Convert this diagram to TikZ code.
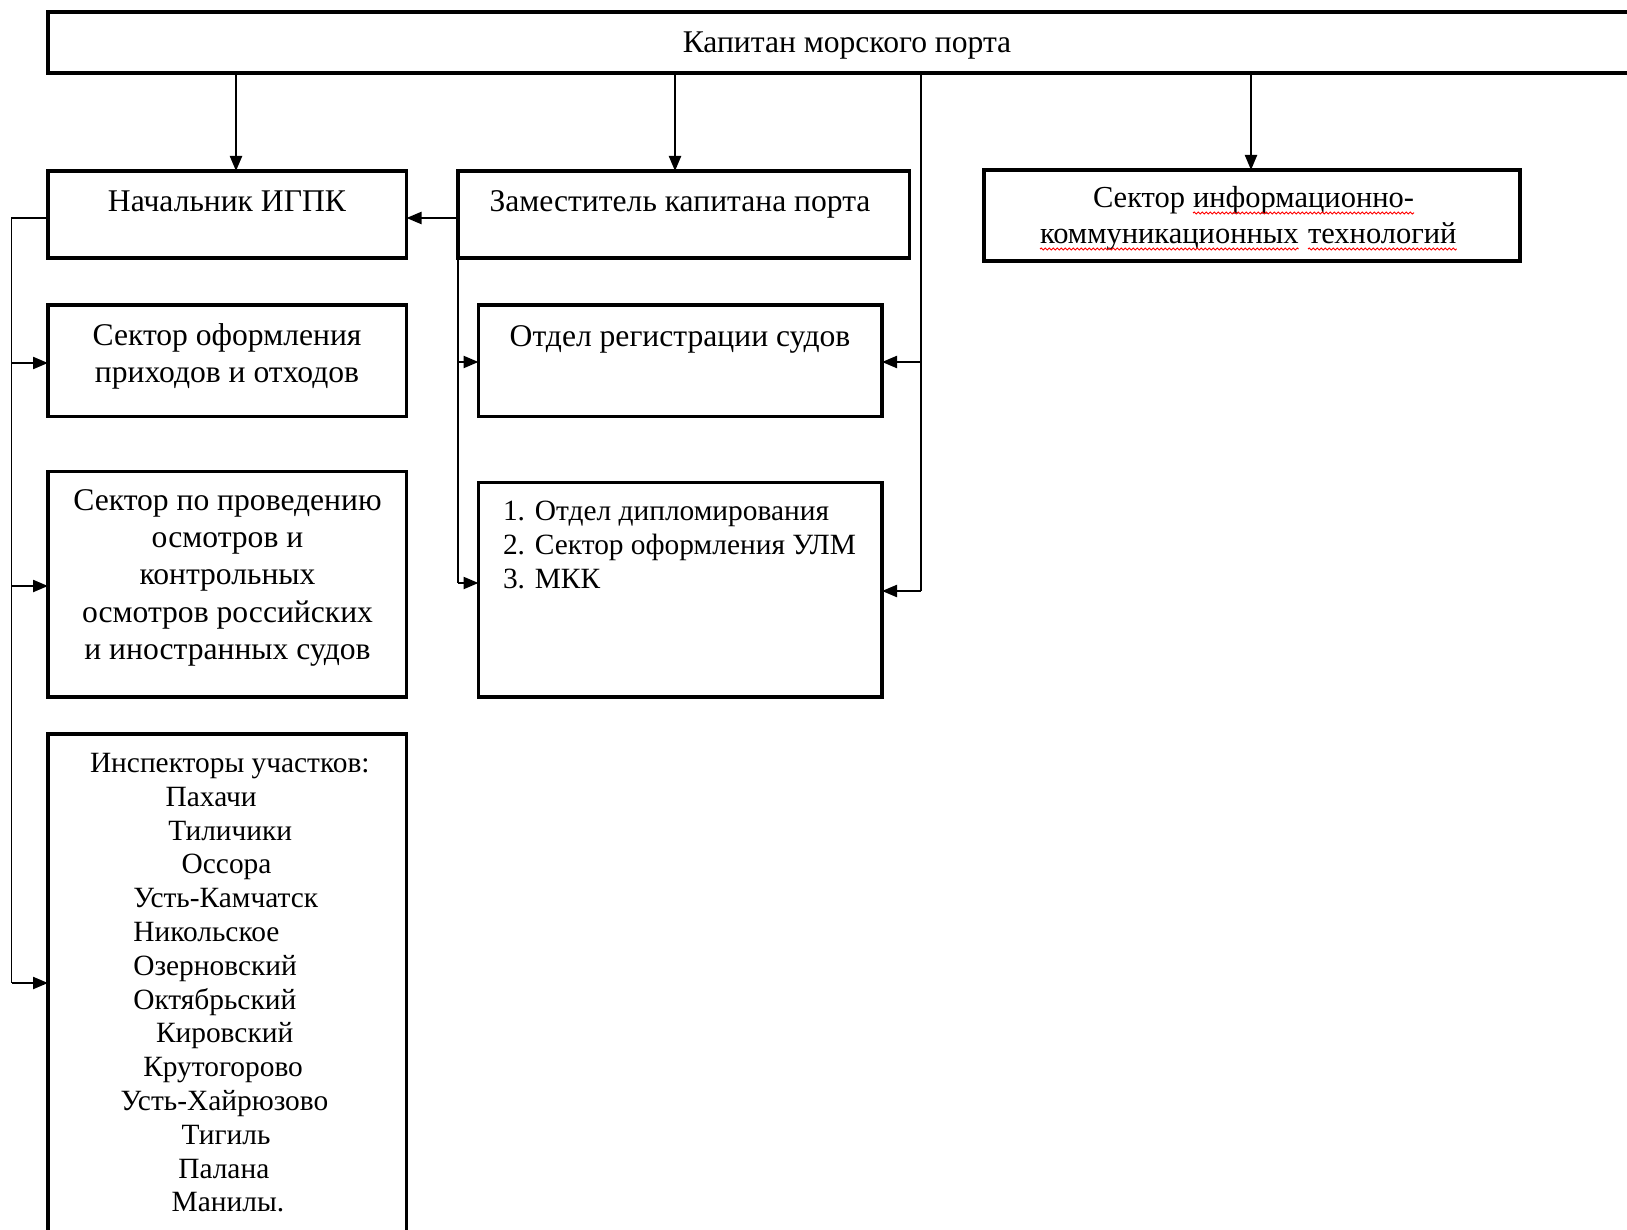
\documentclass[tikz,border=0pt]{standalone}
\usepackage{fontspec}
\setmainfont{Liberation Serif}
\usetikzlibrary{arrows.meta,decorations.pathmorphing}
\begin{document}
\begin{tikzpicture}[x=1pt,y=-1pt,
 box/.style={draw, line width=3.2pt, inner sep=0pt, outer sep=0pt},
 arr/.style={line width=2.2pt, -{Triangle[length=15pt,width=12pt]}},
 bus/.style={line width=1.6pt},
 lbl/.style={inner sep=0pt, outer sep=0pt, anchor=base, font=\fontsize{31.6}{36}\selectfont},
 lbls/.style={inner sep=0pt, outer sep=0pt, anchor=base west, font=\fontsize{29.4}{33.4}\selectfont},
 lblk/.style={inner sep=0pt, outer sep=0pt, anchor=base west, font=\fontsize{30.5}{36}\selectfont},
 wavy/.style={red, line width=1pt, decorate, decoration={snake, amplitude=1pt, segment length=4pt}}]
\useasboundingbox (0,0) rectangle (1627,1230);
\fill[white] (0,0) rectangle (1627,1230);
\clip (0,0) rectangle (1627,1230);

% boxes
\node[box, minimum width=1612pt, minimum height=61pt] (kap) at (854,42.5) {};
\node[box, minimum width=358.5pt, minimum height=87pt] (nach) at (227.25,214.5) {};
\node[box, minimum width=451.5pt, minimum height=87pt] (zam) at (683.75,214.5) {};
\node[box, minimum width=536pt, minimum height=91pt] (ikt) at (1252,215.5) {};
\node[box, minimum width=358.5pt, minimum height=111.5pt] (sof) at (227.25,360.75) {};
\node[box, minimum width=358.5pt, minimum height=225.5pt] (spr) at (227.25,584.25) {};
\node[box, minimum width=358.5pt, minimum height=516pt] (insp) at (227.25,992) {};
\node[box, minimum width=403.5pt, minimum height=111.5pt] (otd) at (680.25,360.75) {};
\node[box, minimum width=403.5pt, minimum height=214.5pt] (lst) at (680.25,589.75) {};

% texts
\node[lbl] (tkap) at (847,52.5) {Капитан морского порта};
\node[lbl] (tnach) at (227,211.5) {Начальник ИГПК};
\node[lbl] (tzam) at (680,212) {Заместитель капитана порта};
\node[lblk] (tikta) at (1093,208) {Сектор};
\node[lblk] (tiktb) at (1193,208) {информационно-};
\node[lblk] (tiktc) at (1040,244) {коммуникационных};
\node[lblk] (tiktd) at (1308,244) {технологий};
\node[lbl] (tsof1) at (227,346) {Сектор оформления};
\node[lbl] (tsof2) at (227,382) {приходов и отходов};
\node[lbl] (tspr1) at (227.5,510) {Сектор по проведению};
\node[lbl] (tspr2) at (227.5,547.4) {осмотров и};
\node[lbl] (tspr3) at (227.5,584.8) {контрольных};
\node[lbl] (tspr4) at (227.5,622.2) {осмотров российских};
\node[lbl] (tspr5) at (227.5,659.6) {и иностранных судов};
\node[lbl] (totd) at (680,347) {Отдел регистрации судов};
\node[lbls] (tl1) at (503,520) {1. Отдел дипломирования};
\node[lbls] (tl2) at (503,554) {2. Сектор оформления УЛМ};
\node[lbls] (tl3) at (503,588) {3. МКК};
\node[lbls] (ti0) at (90,772.5) {Инспекторы участков:};
\node[lbls] (ti1) at (165.7,806.3) {Пахачи};
\node[lbls] (ti2) at (168.3,840.1) {Тиличики};
\node[lbls] (ti3) at (181.7,873.9) {Оссора};
\node[lbls] (ti4) at (133.3,907.7) {Усть-Камчатск};
\node[lbls] (ti5) at (133.3,941.5) {Никольское};
\node[lbls] (ti6) at (133.3,975.3) {Озерновский};
\node[lbls] (ti7) at (133.3,1009.1) {Октябрьский};
\node[lbls] (ti8) at (156,1042.9) {Кировский};
\node[lbls] (ti9) at (143.3,1076.7) {Крутогорово};
\node[lbls] (ti10) at (120.7,1110.5) {Усть-Хайрюзово};
\node[lbls] (ti11) at (181.7,1144.3) {Тигиль};
\node[lbls] (ti12) at (178.3,1178.1) {Палана};
\node[lbls] (ti13) at (171.7,1211.9) {Манилы.};

% spell-check underlines
\draw[wavy] ([yshift=-5pt]tiktb.base west) -- ([yshift=-5pt]tiktb.base east);
\draw[wavy] ([yshift=-5pt]tiktc.base west) -- ([yshift=-5pt]tiktc.base east);
\draw[wavy] ([yshift=-5pt]tiktd.base west) -- ([yshift=-5pt]tiktd.base east);

% top level arrows
\draw[arr] (236,0 |- kap.south) -- (236,0 |- nach.north);
\draw[arr] (675,0 |- kap.south) -- (675,0 |- zam.north);
\draw[arr] (1251,0 |- kap.south) -- (1251,0 |- ikt.north);

% deputy -> head
\draw[arr] (zam.west |- 0,218) -- (nach.east |- 0,218);

% left bus
\coordinate (lb0) at (11.5,218);
\coordinate (lb1) at (11.5,983);
\draw[bus] (nach.west |- lb0) -- (lb0) -- (lb1);
\draw[arr] (11.5,363) -- (sof.west |- 0,363);
\draw[arr] (11.5,586) -- (spr.west |- 0,586);
\draw[arr] (lb1) -- (insp.west |- lb1);

% middle bus
\coordinate (mb1) at (458,583);
\draw[bus] (zam.south west) -- (mb1);
\draw[arr] (458,362) -- (otd.west |- 0,362);
\draw[arr] (mb1) -- (lst.west |- mb1);

% right bus
\coordinate (rb0) at (921,0 |- kap.south);
\coordinate (rb1) at (921,591);
\draw[bus] (rb0) -- (rb1);
\draw[arr] (921,362) -- (otd.east |- 0,362);
\draw[arr] (rb1) -- (lst.east |- rb1);
\end{tikzpicture}
\end{document}
